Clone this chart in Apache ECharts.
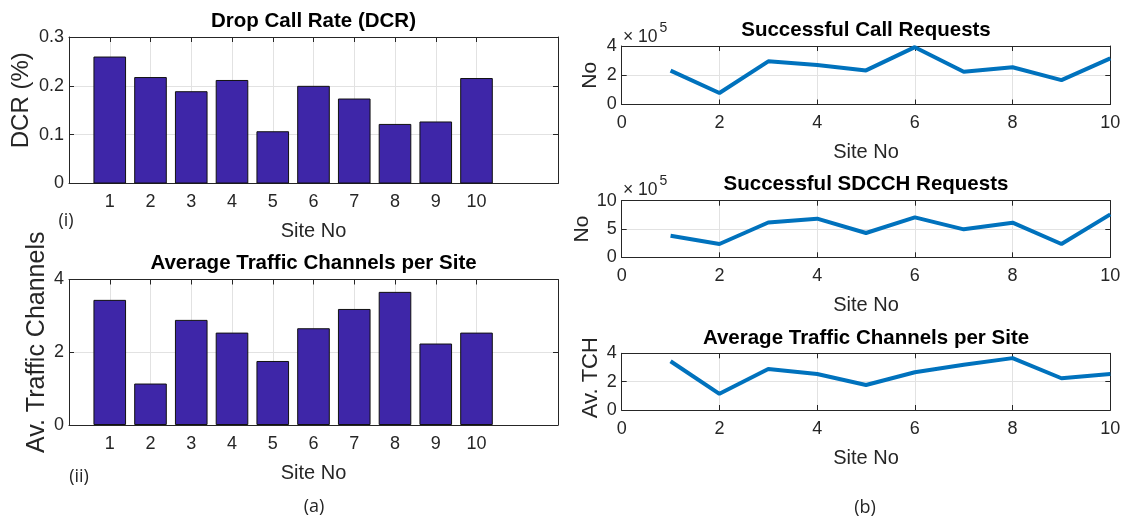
<!DOCTYPE html>
<html>
<head>
<meta charset="utf-8">
<title>Site KPIs</title>
<script src="https://cdn.jsdelivr.net/npm/echarts@6/dist/echarts.min.js"></script>
<style>
  html, body { margin: 0; padding: 0; background: #ffffff; }
  #chart { width: 1126px; height: 520px; }
</style>
</head>
<body>
<div id="chart"></div>
<script>
// ---- data ----
const sites = [1, 2, 3, 4, 5, 6, 7, 8, 9, 10];
const dropCallRate = [0.260, 0.218, 0.189, 0.212, 0.107, 0.200, 0.174, 0.122, 0.127, 0.216];
const avgTrafficChannels = [3.44, 1.14, 2.89, 2.54, 1.76, 2.66, 3.19, 3.66, 2.24, 2.54];
const callRequests = [232000, 79000, 295000, 270000, 233000, 392000, 224000, 255000, 167000, 315000];
const sdcchRequests = [382000, 235000, 615000, 682000, 429000, 706000, 494000, 612000, 235000, 759000];

// ---- styling ----
const FONT = '"Liberation Sans", Arial, Helvetica, sans-serif';
const INK = '#262626';
const GRID_LINE = '#e2e2e2';
const BAR_COLOR = '#3e26a8';
const LINE_COLOR = '#0072bd';
const TICK_SIZE = 18;
const NAME_SIZE = 20;

// panel rectangles (pixels)
const panels = [
  { left: 69,    top: 37,    width: 489,   height: 146.5 }, // DCR bars
  { left: 69,    top: 279.5, width: 489,   height: 145.5 }, // TCH bars
  { left: 621.7, top: 46,    width: 488.6, height: 58.5 },  // call requests
  { left: 621.7, top: 200.7, width: 488.6, height: 56.6 },  // SDCCH requests
  { left: 621.7, top: 353.3, width: 488.6, height: 56.7 }   // TCH line
];

const xAxes = [];
const yAxes = [];
const series = [];

function tickStyle(custom) {
  const t = { show: true, inside: true, length: 5, lineStyle: { color: INK, width: 1 } };
  if (custom) t.customValues = custom;
  return t;
}

function addPanel(idx, xs, ys) {
  // primary axes
  xAxes.push(Object.assign({
    gridIndex: idx, type: 'value', position: 'bottom',
    axisLine: { show: true, onZero: false, lineStyle: { color: INK, width: 1 } },
    axisTick: tickStyle(xs.ticks),
    axisLabel: Object.assign({ show: true, margin: 10, color: INK, fontSize: TICK_SIZE, fontFamily: FONT },
      xs.ticks ? { customValues: xs.ticks } : {}),
    splitLine: { show: true, lineStyle: { color: GRID_LINE, width: 1 } },
    name: 'Site No', nameLocation: 'middle', nameGap: 38,
    nameTextStyle: { color: INK, fontSize: NAME_SIZE, fontFamily: FONT }
  }, xs.range));
  yAxes.push(Object.assign({
    gridIndex: idx, type: 'value', position: 'left',
    axisLine: { show: true, onZero: false, lineStyle: { color: INK, width: 1 } },
    axisTick: tickStyle(),
    axisLabel: { show: true, margin: 5, color: INK, fontSize: TICK_SIZE, fontFamily: FONT, formatter: ys.fmt },
    splitLine: { show: true, lineStyle: { color: GRID_LINE, width: 1 } },
    name: ys.name, nameLocation: 'middle', nameRotate: 90, nameGap: ys.gap,
    nameTextStyle: { color: INK, fontSize: ys.size, fontFamily: FONT, padding: [0, 0, 0, ys.lift || 0] }
  }, ys.range));
  // mirrored box edges with inward ticks
  xAxes.push(Object.assign({
    gridIndex: idx, type: 'value', position: 'top',
    axisLine: { show: true, onZero: false, lineStyle: { color: INK, width: 1 } },
    axisTick: tickStyle(xs.ticks),
    axisLabel: { show: false }, splitLine: { show: false }
  }, xs.range));
  yAxes.push(Object.assign({
    gridIndex: idx, type: 'value', position: 'right',
    axisLine: { show: true, onZero: false, lineStyle: { color: INK, width: 1 } },
    axisTick: tickStyle(),
    axisLabel: { show: false }, splitLine: { show: false }
  }, ys.range));
  return { x: xAxes.length - 2, y: yAxes.length - 2 };
}

function pairs(values) {
  return sites.map((s, i) => [s, values[i]]);
}

function addBars(idx, values, ys) {
  const ax = addPanel(idx, { range: { min: 0, max: 12, interval: 1 }, ticks: sites }, ys);
  series.push({
    type: 'bar', xAxisIndex: ax.x, yAxisIndex: ax.y,
    data: pairs(values), barWidth: '80%',
    itemStyle: { color: BAR_COLOR, borderColor: '#111111', borderWidth: 1 },
    silent: true
  });
}

function addLine(idx, values, ys) {
  const ax = addPanel(idx, { range: { min: 0, max: 10, interval: 2 } }, ys);
  series.push({
    type: 'line', xAxisIndex: ax.x, yAxisIndex: ax.y,
    data: pairs(values), showSymbol: false, symbol: 'none',
    lineStyle: { color: LINE_COLOR, width: 4 },
    silent: true
  });
}

addBars(0, dropCallRate, {
  range: { min: 0, max: 0.3, interval: 0.1 }, name: 'DCR (%)', gap: 36, size: 24, lift: 20,
  fmt: v => String(Math.round(v * 10) / 10)
});
addBars(1, avgTrafficChannels, {
  range: { min: 0, max: 4, interval: 2 }, name: 'Av. Traffic Channels', gap: 19, size: 25, lift: 20
});
addLine(2, callRequests, {
  range: { min: 0, max: 400000, interval: 200000 }, name: 'No', gap: 21, size: 21,
  fmt: v => String(v / 1e5)
});
addLine(3, sdcchRequests, {
  range: { min: 0, max: 1000000, interval: 500000 }, name: 'No', gap: 21, size: 21,
  fmt: v => String(v / 1e5)
});
addLine(4, avgTrafficChannels, {
  range: { min: 0, max: 4, interval: 2 }, name: 'Av. TCH', gap: 20, size: 22, lift: 8
});

// ---- text blocks ----
function label(text, x, y, size, opts) {
  opts = opts || {};
  return {
    text: text, left: x, top: y, padding: 0,
    textAlign: opts.align || 'center', textVerticalAlign: 'middle',
    textStyle: {
      color: opts.color || INK, fontSize: size,
      fontWeight: opts.bold ? 'bold' : 'normal',
      fontFamily: opts.family || FONT
    }
  };
}

const TAG_FONT = '"Open Sans", ' + FONT;
const titles = [
  label('Drop Call Rate (DCR)', 313.5, 21, 20.5, { bold: true, color: '#000' }),
  label('Average Traffic Channels per Site', 313.5, 263.5, 20.5, { bold: true, color: '#000' }),
  label('Successful Call Requests', 866, 30.5, 20.5, { bold: true, color: '#000' }),
  label('Successful SDCCH Requests', 866, 184.5, 20.5, { bold: true, color: '#000' }),
  label('Average Traffic Channels per Site', 866, 338, 20.5, { bold: true, color: '#000' }),
  // exponent markers
  label('\u00d7 10', 623, 37, 17.5, { align: 'left' }),
  label('5', 659.5, 28, 14, { align: 'left' }),
  label('\u00d7 10', 623, 190, 17.5, { align: 'left' }),
  label('5', 659.5, 181, 14, { align: 'left' }),
  // panel tags
  label('(i)', 66, 221, 18, { family: TAG_FONT }),
  label('(ii)', 79, 477, 18, { family: TAG_FONT }),
  label('(a)', 314, 507, 18, { family: TAG_FONT }),
  label('(b)', 865, 508, 18, { family: TAG_FONT })
];

const chart = echarts.init(document.getElementById('chart'), null, { renderer: 'canvas' });
chart.setOption({
  animation: false,
  backgroundColor: '#ffffff',
  title: titles,
  grid: panels.map(p => Object.assign({ containLabel: false }, p)),
  xAxis: xAxes,
  yAxis: yAxes,
  series: series
});
</script>
</body>
</html>
